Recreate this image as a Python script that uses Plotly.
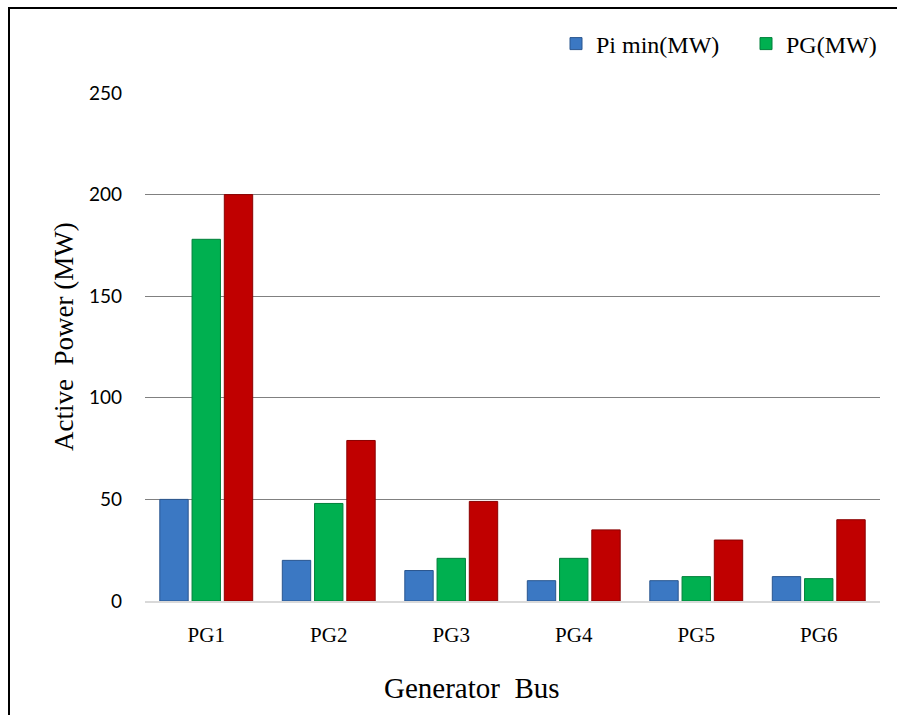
import plotly.graph_objects as go

categories = ["PG1", "PG2", "PG3", "PG4", "PG5", "PG6"]
pi_min = [50, 20, 15, 10, 10, 12]
pg = [178, 48, 21, 21, 12, 11]
pi_max = [200, 79, 49, 35, 30, 40]

fig = go.Figure()
fig.add_trace(go.Bar(x=categories, y=pi_min, name="Pi min(MW)",
                     marker=dict(color="#3b78c3", line=dict(color="#2a568f", width=1))))
fig.add_trace(go.Bar(x=categories, y=pg, name="PG(MW)",
                     marker=dict(color="#00b050", line=dict(color="#00803a", width=1))))
fig.add_trace(go.Bar(x=categories, y=pi_max, name="Pi max(MW)", showlegend=False,
                     marker=dict(color="#c00000", line=dict(color="#8a0000", width=1))))

L, R, T, B = 145, 17, 93, 114
W, H = 897, 715
pw, ph = W - L - R, H - T - B

def px(x):
    return (x - L) / pw

def py(y):
    return (H - B - y) / ph

fig.update_layout(
    width=W, height=H,
    margin=dict(l=L, r=R, t=T, b=B, autoexpand=False),
    paper_bgcolor="white", plot_bgcolor="white",
    barmode="group", bargap=0.21, bargroupgap=0.12,
    font=dict(family="Liberation Serif", color="black"),
    legend=dict(orientation="h", x=px(556), y=py(44), xanchor="left", yanchor="middle",
                font=dict(family="Liberation Serif", size=24), itemwidth=30,
                entrywidth=145, tracegroupgap=0, bgcolor="rgba(0,0,0,0)"),
    xaxis=dict(showgrid=False, showline=True, linecolor="#d9d9d9", linewidth=1.5,
               tickfont=dict(family="Liberation Serif", size=21), ticks="",
               ticklabelstandoff=14),
    yaxis=dict(range=[0, 250], dtick=50, showgrid=True, gridcolor="#808080", gridwidth=1.2,
               zeroline=False, showline=False,
               tickfont=dict(family="Lato", size=19), ticks="",
               ticklabelstandoff=22),
    shapes=[dict(type="rect", xref="paper", yref="paper",
                 x0=px(9), x1=px(910), y0=py(730), y1=py(8),
                 line=dict(color="black", width=2))],
    annotations=[
        dict(text="Active  Power (MW)", xref="paper", yref="paper", x=px(64), y=py(337),
             textangle=-90, showarrow=False, font=dict(family="Liberation Serif", size=27),
             xanchor="center", yanchor="middle"),
        dict(text="Generator  Bus", xref="paper", yref="paper", x=px(472), y=py(688),
             showarrow=False, font=dict(family="Liberation Serif", size=29),
             xanchor="center", yanchor="middle"),
    ],
)

fig.write_html("out.html", config={"displayModeBar": False},
               post_script="document.body.style.margin='0';document.body.style.overflow='hidden';")
